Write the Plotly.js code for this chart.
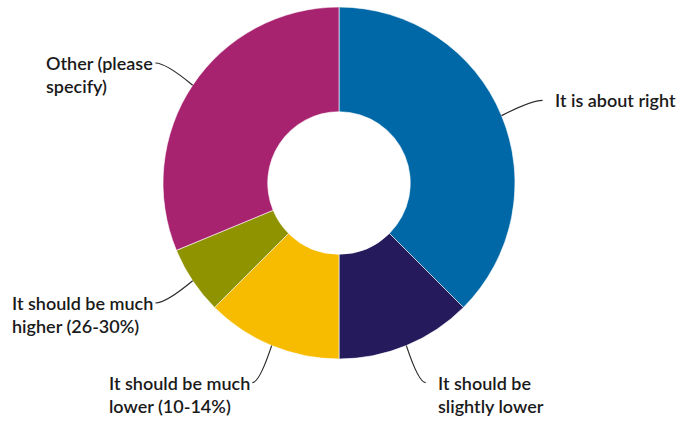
<!DOCTYPE html>
<html>
<head>
<meta charset="utf-8">
<script src="https://cdn.plot.ly/plotly-3.0.1.min.js"></script>
<style>html,body{margin:0;padding:0;background:#fff;}#chart{width:679px;height:421px;}</style>
</head>
<body>
<div id="chart"></div>
<script>
// Data
const categories = ['It is about right', 'It should be slightly lower', 'It should be much lower (10-14%)', 'It should be much higher (26-30%)', 'Other (please specify)'];
const displayLabels = ['It is about right', 'It should be<br>slightly lower', 'It should be much<br>lower (10-14%)', 'It should be much<br>higher (26-30%)', 'Other (please<br>specify)'];
const values = [6, 2, 2, 1, 5];
const colors = ['#0068a7', '#251a5c', '#f7bc00', '#909300', '#a8236f'];

// Layout geometry
const W = 679, H = 421;
const cx = 339, cy = 183, R = 176;
const FS = 18;

const total = values.reduce((a, b) => a + b, 0);
const px2x = p => p / W;
const px2y = p => 1 - p / H;

const shapes = [];
const annotations = [];
let cum = 0;
values.forEach((v, i) => {
  const a = (cum + v / 2) / total * 2 * Math.PI;
  cum += v;
  const sx = Math.sin(a), sy = -Math.cos(a);
  const ex = cx + R * sx, ey = cy + R * sy;
  const d1 = 40;
  const side = sx >= 0 ? 1 : -1;
  const mx = ex + sx * d1, my = ey + sy * d1;
  const endX = mx + side * 4, endY = my;
  const ctrlX = ex + sx * d1 * 0.8, ctrlY = endY;
  shapes.push({
    type: 'path', xref: 'paper', yref: 'paper',
    path: `M ${px2x(ex)},${px2y(ey)} Q ${px2x(ctrlX)},${px2y(ctrlY)} ${px2x(endX)},${px2y(endY)}`,
    line: {color: '#2a2a2a', width: 1.2}
  });
  const multi = displayLabels[i].indexOf('<br>') >= 0;
  annotations.push({
    xref: 'paper', yref: 'paper',
    x: px2x(endX + (side > 0 ? 10 : 0)),
    y: px2y(multi ? endY - (0.65 * FS + 1) : endY),
    xanchor: side > 0 ? 'left' : 'right',
    yanchor: multi ? 'top' : 'middle',
    align: 'left',
    showarrow: false,
    text: displayLabels[i],
    font: {family: 'Lato, sans-serif', size: FS, color: '#1a1a1a', weight: 600}
  });
});

const data = [{
  type: 'pie',
  labels: categories,
  values: values,
  sort: false,
  direction: 'clockwise',
  rotation: 0,
  hole: 0.405,
  textinfo: 'none',
  hoverinfo: 'none',
  marker: {colors: colors, line: {color: 'rgba(255,255,255,0.6)', width: 1}},
  domain: {x: [(cx - R) / W, (cx + R) / W], y: [1 - (cy + R) / H, 1 - (cy - R) / H]}
}];

const layout = {
  width: W, height: H,
  margin: {l: 0, r: 0, t: 0, b: 0},
  showlegend: false,
  paper_bgcolor: '#ffffff',
  font: {family: 'Lato, sans-serif', size: FS, color: '#1a1a1a'},
  shapes: shapes,
  annotations: annotations
};

Plotly.newPlot('chart', data, layout, {displayModeBar: false, staticPlot: true});
</script>
</body>
</html>
